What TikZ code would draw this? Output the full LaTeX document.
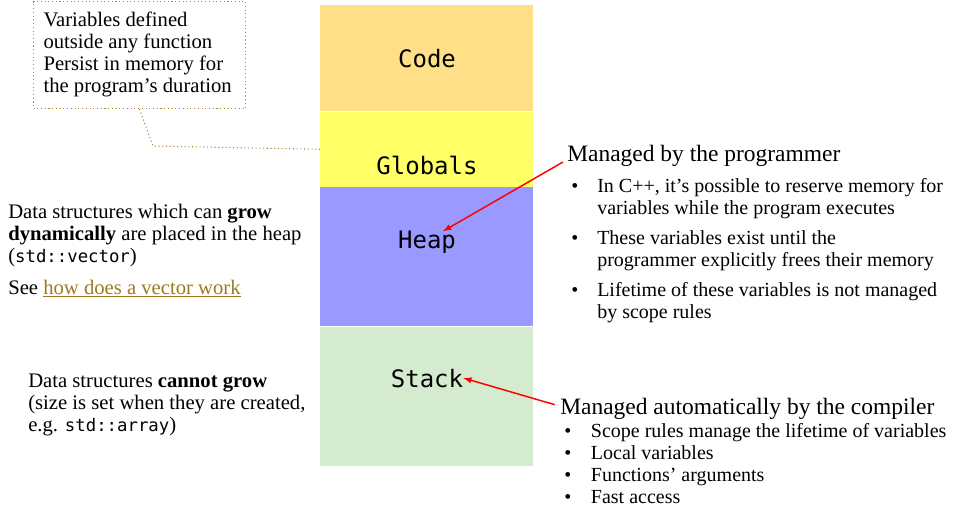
\documentclass[tikz,border=0pt]{standalone}
\usepackage{fontspec}
\setmainfont{Liberation Serif}
\setmonofont{DejaVu Sans Mono}
\usetikzlibrary{shapes,arrows,positioning}
\definecolor{codecol}{HTML}{FFDF88}
\definecolor{globcol}{HTML}{FFFF66}
\definecolor{heapcol}{HTML}{9999FF}
\definecolor{stackcol}{HTML}{D5EBD0}
\definecolor{calloutcol}{HTML}{A88A34}
\definecolor{linkcol}{HTML}{9C7A1E}
\newcommand{\mono}[1]{{\fontsize{13}{16.5}\ttfamily #1}}

\begin{document}
\begin{tikzpicture}
                [
                    x=0.75pt, y=-0.75pt,
                    memblock/.style={rectangle, minimum width=159.75pt, inner sep=0pt},
                    memlabel/.style={anchor=base, inner sep=0pt, font=\fontsize{18}{20}\ttfamily},
                    note/.style={anchor=base west, inner sep=0pt, font=\fontsize{15.5}{16.5}\selectfont},
                    bullets/.style={anchor=base west, inner sep=0pt, font=\fontsize{15}{16.5}\selectfont},
                    heading/.style={anchor=base west, inner sep=0pt, font=\fontsize{17.6}{20}\selectfont},
                    calloutbox/.style={rectangle, draw=calloutcol, dotted, thick, anchor=north west, inner xsep=7.5pt, minimum width=159pt, minimum height=80.25pt, font=\fontsize{15.5}{16.5}\selectfont},
                    pointer/.style={-latex, red, line width=1.1pt}
                ]
                \useasboundingbox (0,0) rectangle (955,509);

                \node [memblock, fill=codecol, minimum height=79.5pt, anchor=north west] (code) at (320,5) {};
                \node [memblock, fill=globcol, minimum height=56.25pt] (globals) [below=0pt of code] {};
                \node [memblock, fill=heapcol, minimum height=104.25pt] (heap) [below=0pt of globals] {};
                \node [memblock, fill=stackcol, minimum height=104.25pt] (stack) [below=0pt of heap] {};

                \node [memlabel] (codelbl) at (427,68) {Code};
                \node [memlabel] (globalslbl) at (427,175) {Globals};
                \node [memlabel] (heaplbl) at (427,249) {Heap};
                \node [memlabel] (stacklbl) at (427,387) {Stack};

                \node [calloutbox] (callout) at (33,1) {\begin{tabular}{@{}p{144pt}@{}}Variables defined\\ outside any function\\ Persist in memory for\\ the program’s duration\end{tabular}};
                \draw [calloutcol, dotted, thick] (callout.south) -- (153,146) -- (globals.west);

                \node [note] (heapnote) at (8,219) {\begin{tabular}[t]{@{}l@{}}Data structures which can \textbf{grow}\\ \textbf{dynamically} are placed in the heap\\ (\mono{std::vector})\\[7pt] See \textcolor{linkcol}{\underline{how does a vector work}}\end{tabular}};
                \node [note] (stacknote) at (28,387) {\begin{tabular}[t]{@{}l@{}}Data structures \textbf{cannot grow}\\ (size is set when they are created,\\ e.g. \mono{std::array})\end{tabular}};

                \node [heading] (mgr) at (567,162) {Managed by the programmer};
                \node [bullets] (mgrlist) at (571,193) {\begin{tabular}[t]{@{}p{19.5pt}@{}l@{}}\textbullet & In C++, it’s possible to reserve memory for\\ & variables while the program executes\\[6pt] \textbullet & These variables exist until the\\ & programmer explicitly frees their memory\\[6pt] \textbullet & Lifetime of these variables is not managed\\ & by scope rules\end{tabular}};

                \node [heading] (comp) at (560,414) {Managed automatically by the compiler};
                \node [bullets] (complist) at (564,437) {\begin{tabular}[t]{@{}p{20pt}@{}l@{}}\textbullet & Scope rules manage the lifetime of variables\\ \textbullet & Local variables\\ \textbullet & Functions’ arguments\\ \textbullet & Fast access\end{tabular}};

                \draw [pointer] ([xshift=-3pt]mgr.base west) -- ([xshift=12pt]heaplbl.north);
                \draw [pointer] ([xshift=-4pt, yshift=7pt]comp.base west) -- (stacklbl.east);
            \end{tikzpicture}
\end{document}
